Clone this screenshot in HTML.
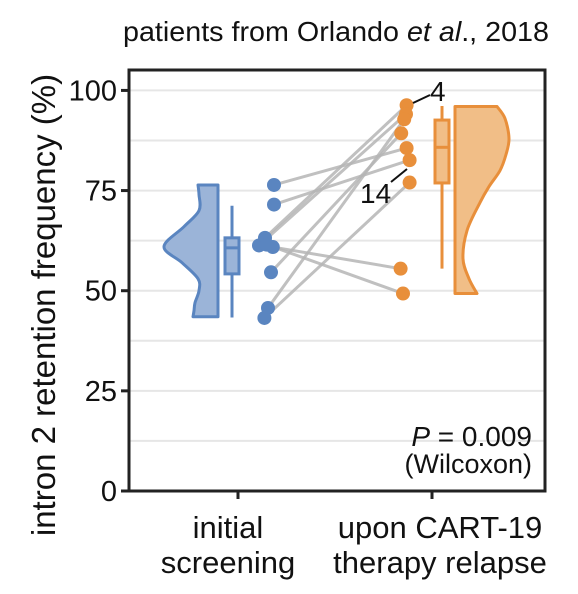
<!DOCTYPE html>
<html><head><meta charset="utf-8"><style>
body{margin:0;background:#fff;}
svg{display:block;font-family:"Liberation Sans",Arial,sans-serif;}
</style></head><body>
<svg id="chart" width="578" height="594" viewBox="0 0 578 594">
<text x="336" y="41" font-size="28" text-anchor="middle" fill="#111" textLength="426" lengthAdjust="spacingAndGlyphs">patients from Orlando <tspan font-style="italic">et al</tspan>., 2018</text>
<g id="grid"></g>
<g id="violins"></g>
<g id="pairs"></g>
<g id="boxes"></g>
<g id="points"></g>
<g id="axes"></g>
<g>
<line x1="413" y1="103" x2="430" y2="95" stroke="#111" stroke-width="2"/>
<text x="430" y="101" font-size="28" fill="#111">4</text>
<line x1="391" y1="182" x2="407" y2="169" stroke="#111" stroke-width="2"/>
<text x="360" y="203" font-size="28" fill="#111">14</text>
<text x="532" y="446" font-size="28" text-anchor="end" fill="#111"><tspan font-style="italic">P</tspan> = 0.009</text>
<text x="532" y="473" font-size="27" text-anchor="end" fill="#111">(Wilcoxon)</text>
</g>
<text transform="translate(55,305) rotate(-90)" font-size="33" text-anchor="middle" fill="#111">intron 2 retention frequency (%)</text>
<text x="228" y="538" font-size="31" text-anchor="middle" fill="#111"><tspan x="228">initial</tspan><tspan x="228" dy="35">screening</tspan></text>
<text x="440" y="538" font-size="31" text-anchor="middle" fill="#111"><tspan x="440">upon CART-19</tspan><tspan x="440" dy="35">therapy relapse</tspan></text>
</svg>
<script>
const yTicks=[0,25,50,75,100];
const gridVals=[0,12.5,25,37.5,50,62.5,75,87.5,100];
const before=[76.4,71.5,63.2,61.3,60.9,61.5,54.6,45.7,43.2];
const after=[85.6,82.6,96.3,94.1,55.5,49.3,89.3,92.8,77.0];
const jitterB=[1,1,-0.5,-1.5,0.8,-0.2,0.5,0,-0.6];
const jitterA=[0.1,0.6,0.1,0,-0.9,-0.5,-0.8,-0.3,0.6];
const boxB=[43.3,54.2,60.7,63.2,71.2];
const boxA=[55.5,76.9,85.8,92.6,96.1];
const violinBY=[76.4,74,70,66,61,57,53,50,47,45,43.5];
const violinBD=[20,19,19,34,54,36,20,19,23,24,25];
const violinAY=[96,93,88,84,80,76,72,65,58,53,49.3];
const violinAD=[42,50,54,51,45,34,25,12,8,14,22];
const L=129,R=545,T=70,B=491;
const y=v=>B-(B-T)*v/105.1;
const jx=j=>j*6;
const ns='http://www.w3.org/2000/svg';
function mk(t,p,a){const e=document.createElementNS(ns,t);for(const k in a)e.setAttribute(k,a[k]);p.appendChild(e);return e;}
const G=id=>document.getElementById(id);
gridVals.forEach(v=>{const l=mk('line',G('grid'),{x1:L,x2:R,y1:y(v),y2:y(v),stroke:'#e6e6e6','stroke-width':2});

});
function smooth(pts){let d='M'+pts[0][0]+','+pts[0][1];for(let i=0;i<pts.length-1;i++){const p0=pts[Math.max(0,i-1)],p1=pts[i],p2=pts[i+1],p3=pts[Math.min(pts.length-1,i+2)];
d+=' C'+(p1[0]+(p2[0]-p0[0])/6)+','+(p1[1]+(p2[1]-p0[1])/6)+' '+(p2[0]-(p3[0]-p1[0])/6)+','+(p2[1]-(p3[1]-p1[1])/6)+' '+p2[0]+','+p2[1];}return d;}
function violin(ys,ds,base,dir,fill,stroke,name){const pts=ys.map((v,i)=>[base+dir*ds[i],y(v)]);
let d='M'+base+','+y(ys[0])+' L'+pts[0][0]+','+pts[0][1]+smooth(pts).replace(/^M[^ ]+/,'')+' L'+base+','+y(ys[ys.length-1])+'Z';
const p=mk('path',G('violins'),{d:d,fill:fill,stroke:stroke,'stroke-width':3,'stroke-linejoin':'round'});

}
violin(violinBY,violinBD,218,-1,'#9bb4d8','#5a85c0','violin-initial');
violin(violinAY,violinAD,455,1,'#f1be87','#e88f3b','violin-relapse');
function box(b,cx,col,fill,name){const g=mk('g',G('boxes'),{});


mk('line',g,{x1:cx,x2:cx,y1:y(b[0]),y2:y(b[4]),stroke:col,'stroke-width':3});
mk('rect',g,{x:cx-7,y:y(b[3]),width:14,height:y(b[1])-y(b[3]),fill:fill,stroke:col,'stroke-width':3});
mk('line',g,{x1:cx-7,x2:cx+7,y1:y(b[2]),y2:y(b[2]),stroke:col,'stroke-width':3});}
box(boxB,232,'#5a85c0','#9bb4d8','box-initial');
box(boxA,442,'#e88f3b','#f1be87','box-relapse');
const xB=268,xA=406;
before.forEach((v,i)=>{const l=mk('line',G('pairs'),{x1:xB+jx(jitterB[i]),y1:y(v),x2:xA+jx(jitterA[i]),y2:y(after[i]),stroke:'#b5b5b5','stroke-opacity':0.85,'stroke-width':3});

});
before.forEach((v,i)=>{const c=mk('circle',G('points'),{cx:xB+jx(jitterB[i]),cy:y(v),r:7,fill:'#5a85c0'});

});
after.forEach((v,i)=>{const c=mk('circle',G('points'),{cx:xA+jx(jitterA[i]),cy:y(v),r:7,fill:'#e88f3b'});

});
const ax=G('axes');
const fr=mk('rect',ax,{x:L,y:T,width:R-L,height:B-T,fill:'none',stroke:'#222','stroke-width':3});


yTicks.forEach(v=>{mk('line',ax,{x1:L-8,x2:L,y1:y(v),y2:y(v),stroke:'#222','stroke-width':3});
const t=mk('text',ax,{x:L-12,y:y(v)+10,'font-size':29,'text-anchor':'end',fill:'#111'});t.textContent=v;

});
[238,432].forEach(x=>mk('line',ax,{x1:x,x2:x,y1:B,y2:B+8,stroke:'#222','stroke-width':3}));
</script>
</body></html>
